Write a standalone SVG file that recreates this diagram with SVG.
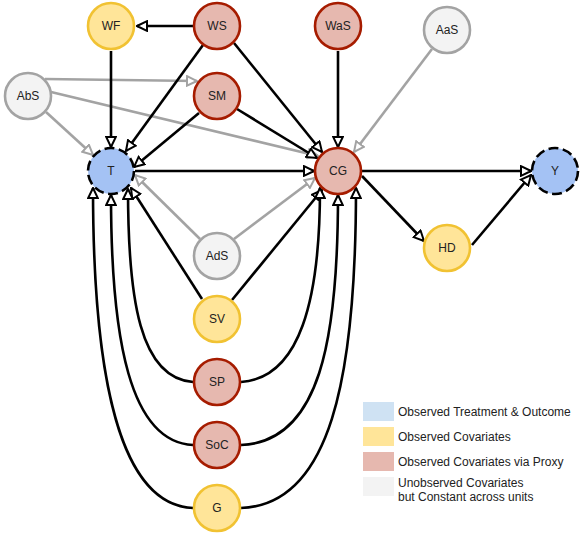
<svg xmlns="http://www.w3.org/2000/svg" width="582" height="534" viewBox="0 0 582 534">
<style>
.e{fill:none;stroke:#000;stroke-width:2.6;marker-end:url(#ab)}
.g{fill:none;stroke:#A3A3A3;stroke-width:2.6;marker-end:url(#ag)}
.n circle{stroke-width:2.6}
.blue circle{fill:#A4C2F4;stroke:#000;stroke-dasharray:10 4.45}
.yel circle{fill:#FFE599;stroke:#F1C232}
.red circle{fill:#E6B8AF;stroke:#A61C00}
.gry circle{fill:#F3F3F3;stroke:#A3A3A3}
.n text{font-family:"Liberation Sans",Arial,sans-serif;font-size:12px;text-anchor:middle;fill:#222}
.lg text{font-family:"Liberation Sans",Arial,sans-serif;font-size:12px;fill:#222}
</style>
<defs>
<marker id="ab" viewBox="0 0 12 12" refX="11" refY="6" markerWidth="12" markerHeight="12" markerUnits="userSpaceOnUse" orient="auto"><path d="M1,1.2 L11,6 L1,10.8 z" fill="#fff" stroke="#000" stroke-width="2"/></marker>
<marker id="ag" viewBox="0 0 12 12" refX="11" refY="6" markerWidth="12" markerHeight="12" markerUnits="userSpaceOnUse" orient="auto"><path d="M1,1.2 L11,6 L1,10.8 z" fill="#fff" stroke="#A3A3A3" stroke-width="2"/></marker>
</defs>
<rect width="582" height="534" fill="#fff"/>
<g id="connectors">
<path class="g" d="M45,79 L197,81"/>
<path class="g" d="M46,112 L93,155"/>
<path class="g" d="M51,92 L318,156"/>
<path class="g" d="M432,49 L354,152"/>
<path class="g" d="M200,239 L135,175"/>
<path class="g" d="M234,239 L315,178"/>
<path class="e" d="M193,26 L137,26"/>
<path class="e" d="M111,51 L111,147"/>
<path class="e" d="M203,45 L126,151"/>
<path class="e" d="M199,113 L134,167"/>
<path class="e" d="M234,43 L322,152"/>
<path class="e" d="M237,109 L317,158"/>
<path class="e" d="M338,51 L338,147"/>
<path class="e" d="M135,171 L314,171"/>
<path class="e" d="M362,171 L531,171"/>
<path class="e" d="M362,176 L424,241"/>
<path class="e" d="M472,245 L531,175"/>
<path class="e" d="M202,299 L131,188"/>
<path class="e" d="M232,300 L322,190"/>
<path class="e" d="M193,382 C140,378 128,300 128,189"/>
<path class="e" d="M193,445 C130,442 111,340 111,195"/>
<path class="e" d="M193,508 C120,505 93,380 93,188"/>
<path class="e" d="M241,382 C300,378 320,300 320,188"/>
<path class="e" d="M241,445 C320,442 338,340 338,195"/>
<path class="e" d="M241,508 C330,505 356,380 356,188"/>
</g>
<g id="WF" class="n yel"><circle cx="111" cy="26" r="23"/><text x="111" y="30">WF</text></g>
<g id="WS" class="n red"><circle cx="217" cy="26" r="23"/><text x="217" y="30">WS</text></g>
<g id="WaS" class="n red"><circle cx="338" cy="26" r="23"/><text x="338" y="30">WaS</text></g>
<g id="AaS" class="n gry"><circle cx="447" cy="30" r="23"/><text x="447" y="34">AaS</text></g>
<g id="AbS" class="n gry"><circle cx="28" cy="96" r="23"/><text x="28" y="100">AbS</text></g>
<g id="SM" class="n red"><circle cx="217" cy="96" r="23"/><text x="217" y="100">SM</text></g>
<g id="T" class="n blue"><circle cx="111" cy="171" r="23"/><text x="111" y="175">T</text></g>
<g id="CG" class="n red"><circle cx="338" cy="171" r="23"/><text x="338" y="175">CG</text></g>
<g id="Y" class="n blue"><circle cx="555" cy="171" r="23"/><text x="555" y="175">Y</text></g>
<g id="HD" class="n yel"><circle cx="447" cy="248" r="23"/><text x="447" y="252">HD</text></g>
<g id="AdS" class="n gry"><circle cx="217" cy="256" r="23"/><text x="217" y="260">AdS</text></g>
<g id="SV" class="n yel"><circle cx="217" cy="319" r="23"/><text x="217" y="323">SV</text></g>
<g id="SP" class="n red"><circle cx="217" cy="382" r="23"/><text x="217" y="386">SP</text></g>
<g id="SoC" class="n red"><circle cx="217" cy="445" r="23"/><text x="217" y="449">SoC</text></g>
<g id="G" class="n yel"><circle cx="217" cy="508" r="23"/><text x="217" y="512">G</text></g>
<g id="legend" class="lg">
<rect x="363" y="402" width="31" height="19" fill="#CFE2F3"/>
<rect x="363" y="427" width="31" height="19" fill="#FFE599"/>
<rect x="363" y="452" width="31" height="19" fill="#E6B8AF"/>
<rect x="363" y="477" width="31" height="19" fill="#F3F3F3"/>
<text x="398" y="416">Observed Treatment &amp; Outcome</text>
<text x="398" y="441">Observed Covariates</text>
<text x="398" y="466">Observed Covariates via Proxy</text>
<text x="398" y="487">Unobserved Covariates</text>
<text x="398" y="501">but Constant across units</text>
</g>
</svg>
